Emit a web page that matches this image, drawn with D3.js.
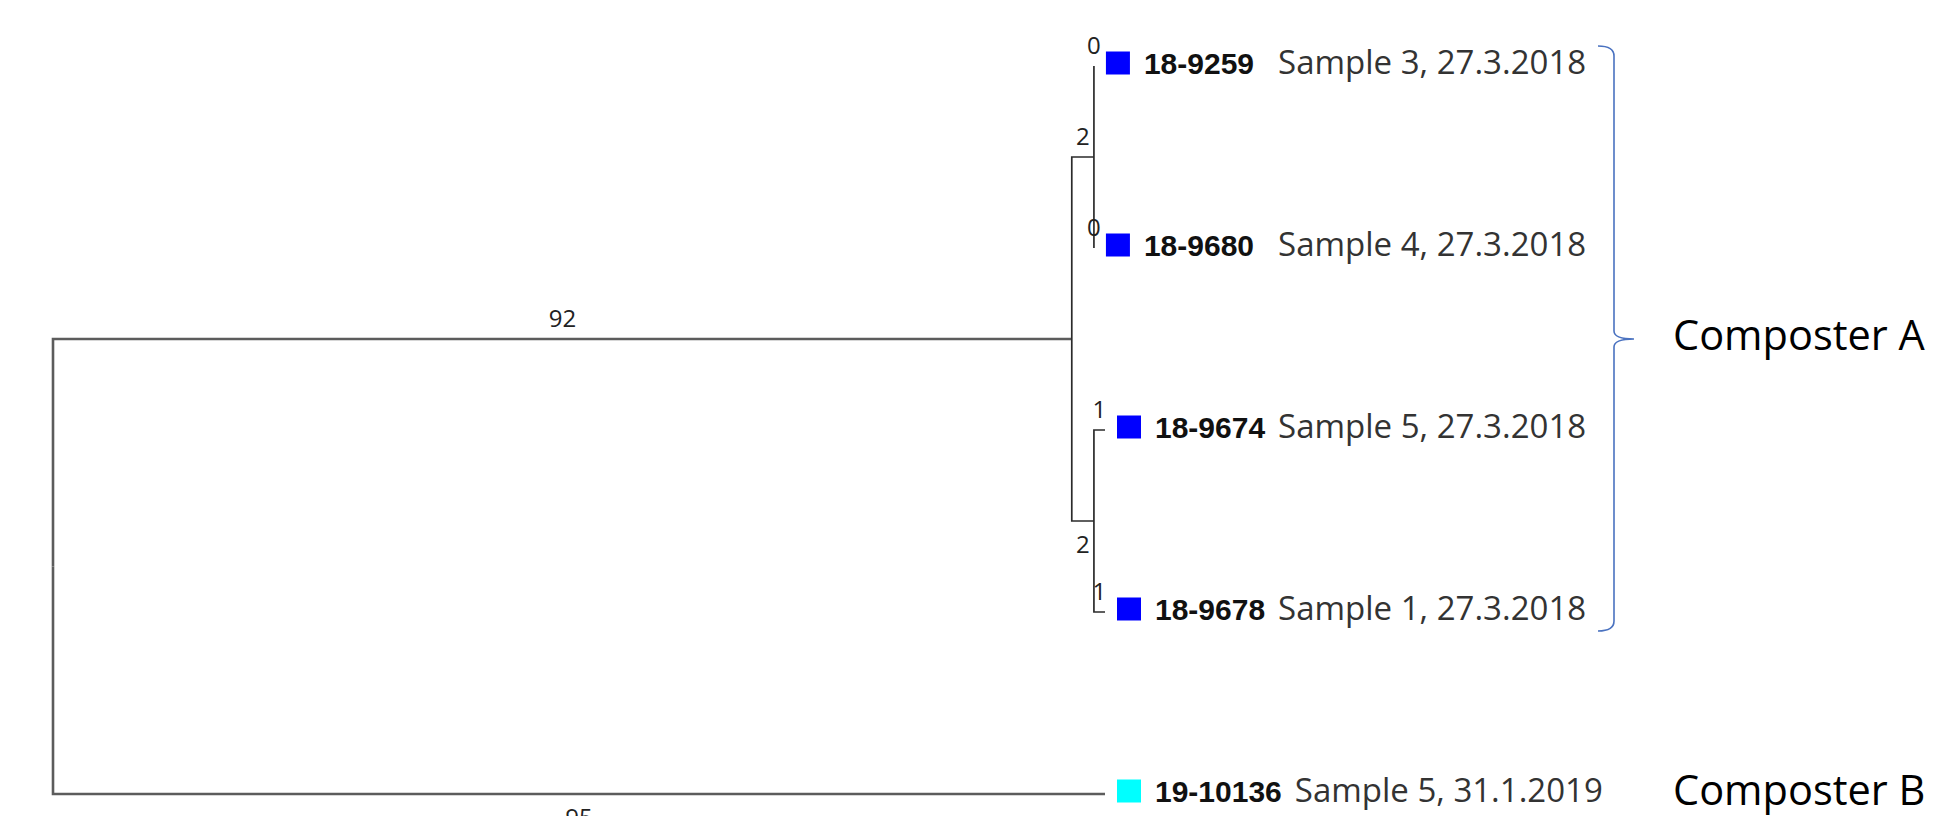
<!DOCTYPE html>
<html>
<head>
<meta charset="utf-8">
<script src="https://cdn.jsdelivr.net/npm/d3@7"></script>
<style>
  html, body { margin: 0; padding: 0; background: #fff; }
  svg { display: block; }
</style>
</head>
<body>
<svg id="chart" width="1953" height="816"></svg>
<script>
// ---- data ----
const nodeNames     = ["root", "A", "A1", "A2", "18-9259", "18-9680", "18-9674", "18-9678", "19-10136"];
const nodeParents   = [null, "root", "A", "A", "A1", "A1", "A2", "A2", "root"];
const branchLengths = [0, 92, 2, 2, 0, 0, 1, 1, 95];
const leafSamples = {
  "18-9259": "Sample 3, 27.3.2018",
  "18-9680": "Sample 4, 27.3.2018",
  "18-9674": "Sample 5, 27.3.2018",
  "18-9678": "Sample 1, 27.3.2018",
  "19-10136": "Sample 5, 31.1.2019"
};
const leafGroup = { "18-9259": "A", "18-9680": "A", "18-9674": "A", "18-9678": "A", "19-10136": "B" };
const groupNames = ["A", "B"];
const groupLabels = ["Composter A", "Composter B"];
const groupClade = { "A": "A", "B": "19-10136" };

// ---- styles ----
const groupColor = { "A": "#0000ff", "B": "#00ffff" };

const svg = d3.select("#chart");

const table = nodeNames.map((n, i) => ({ id: n, parent: nodeParents[i], len: branchLengths[i] }));
const root = d3.stratify().id(d => d.id).parentId(d => d.parent)(table);

// cumulative distance
root.each(n => { n.dist = n.parent ? n.parent.dist + n.data.len : 0; });
const maxDist = d3.max(root.leaves(), l => l.dist);

const xS = d3.scaleLinear().domain([0, maxDist]).range([53, 1105]);
const yS = d3.scalePoint().domain(root.leaves().map(l => l.id)).range([66, 794]);

root.eachAfter(n => {
  n.px = xS(n.dist);
  n.py = n.children ? d3.mean(n.children, c => c.py) : yS(n.id);
});

// links (elbow)
const links = root.links();
svg.append("g").selectAll("path").data(links).join("path")
  .attr("d", l => `M${l.source.px},${l.source.py}V${l.target.py}H${l.target.px}`)
  .attr("fill", "none")
  .attr("stroke", l => l.source.depth === 0 ? "#5c5c5c" : "#2b2b2b")
  .attr("stroke-width", l => l.source.depth === 0 ? 2.6 : 1.7);

// branch length labels
svg.append("g").selectAll("text").data(root.descendants().filter(n => n.parent)).join("text")
  .attr("x", n => (n.parent.px + n.px) / 2)
  .attr("y", n => {
    const last = n.parent.children[n.parent.children.length - 1] === n;
    const below = last && (n.children || n.parent.depth === 0);
    return below ? n.py + 32 : n.py - 12;
  })
  .attr("text-anchor", "middle")
  .attr("font-family", "Open Sans, sans-serif")
  .attr("font-size", 24)
  .attr("fill", "#222")
  .text(n => n.data.len);

// leaves
const leaves = root.leaves();
const lg = svg.append("g").selectAll("g").data(leaves).join("g");
lg.append("rect")
  .attr("x", n => n.px + 12)
  .attr("y", n => n.py - 3 - 11.5)
  .attr("width", 24).attr("height", 23)
  .attr("fill", n => groupColor[leafGroup[n.id]]);
const ids = lg.append("text")
  .attr("x", n => n.px + 50)
  .attr("y", n => n.py + 8)
  .attr("font-family", "Liberation Sans, Arial, sans-serif")
  .attr("font-weight", "bold")
  .attr("font-size", 30)
  .attr("fill", "#111")
  .text(n => n.id);
// sample column per group: after widest id in the group
const idEnd = new Map();
ids.each(function(n) {
  const e = n.px + 50 + this.getComputedTextLength();
  const g = leafGroup[n.id];
  idEnd.set(g, Math.max(idEnd.get(g) || 0, e));
});
lg.append("text")
  .attr("x", n => idEnd.get(leafGroup[n.id]) + 13)
  .attr("y", n => n.py + 8)
  .attr("font-family", "Open Sans, sans-serif")
  .attr("font-size", 33)
  .attr("fill", "#333")
  .text(n => leafSamples[n.id]);

// bracket for group A
const aLeaves = leaves.filter(n => leafGroup[n.id] === "A");
const bTop = d3.min(aLeaves, n => n.py) - 20;
const bBot = d3.max(aLeaves, n => n.py) + 19;
const nodeA = root.descendants().find(n => n.id === "A");
const bMid = nodeA.py;
const bx = 1614;
svg.append("path")
  .attr("d", `M${bx - 16},${bTop} Q${bx},${bTop} ${bx},${bTop + 10} V${bMid - 8} Q${bx},${bMid} ${bx + 20},${bMid}` +
             ` Q${bx},${bMid} ${bx},${bMid + 8} V${bBot - 10} Q${bx},${bBot} ${bx - 16},${bBot}`)
  .attr("fill", "none")
  .attr("stroke", "#4a72c0")
  .attr("stroke-width", 1.6);

// group labels
svg.append("g").selectAll("text").data(groupNames).join("text")
  .attr("x", 1673)
  .attr("y", g => root.descendants().find(n => n.id === groupClade[g]).py + 11)
  .attr("font-family", "Open Sans, sans-serif")
  .attr("font-size", 41.5)
  .attr("fill", "#000")
  .text((g, i) => groupLabels[i]);
</script>
</body>
</html>
